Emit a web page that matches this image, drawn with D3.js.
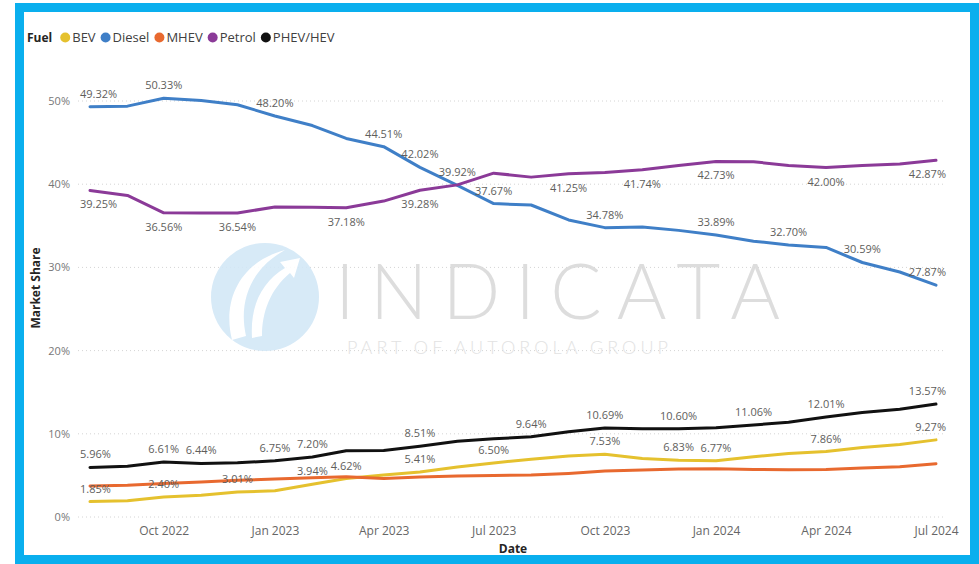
<!DOCTYPE html>
<html>
<head>
	<meta charset="utf-8">
	<title>Market Share by Fuel</title>
	<script src="https://cdn.jsdelivr.net/npm/d3@7"></script>
	<style>
		body { margin: 0; background: #fff; }
		svg { display: block; font-family: "Segoe UI", "Open Sans", sans-serif; }
	</style>
</head>
<body>
	<svg width="979" height="564"></svg>
	<script>
		// monthly data, Aug 2022 .. Jul 2024
		const months = ['2022-08','2022-09','2022-10','2022-11','2022-12','2023-01','2023-02','2023-03','2023-04','2023-05','2023-06','2023-07',
			'2023-08','2023-09','2023-10','2023-11','2023-12','2024-01','2024-02','2024-03','2024-04','2024-05','2024-06','2024-07'];
		const fuels = ['BEV', 'Diesel', 'MHEV', 'Petrol', 'PHEV/HEV'];
		const colors = ['#E5C12E', '#3F7FC7', '#E8692F', '#8B3A98', '#111111'];

		const bev    = [1.85, 1.95, 2.40, 2.62, 3.01, 3.15, 3.94, 4.62, 5.04, 5.41, 6.02, 6.50, 6.93, 7.32, 7.53, 7.04, 6.83, 6.77, 7.24, 7.62, 7.86, 8.36, 8.72, 9.27];
		const diesel = [49.32, 49.38, 50.33, 50.05, 49.55, 48.20, 47.05, 45.50, 44.51, 42.02, 39.85, 37.67, 37.50, 35.70, 34.78, 34.85, 34.45, 33.89, 33.15, 32.70, 32.40, 30.59, 29.45, 27.87];
		const mhev   = [3.72, 3.82, 4.02, 4.20, 4.42, 4.56, 4.72, 4.84, 4.64, 4.82, 4.92, 5.00, 5.04, 5.24, 5.52, 5.64, 5.76, 5.80, 5.72, 5.68, 5.72, 5.88, 6.04, 6.40];
		const petrol = [39.25, 38.65, 36.56, 36.55, 36.54, 37.25, 37.24, 37.18, 37.97, 39.28, 39.92, 41.33, 40.85, 41.25, 41.42, 41.74, 42.25, 42.73, 42.70, 42.25, 42.00, 42.25, 42.42, 42.87];
		const phev   = [5.96, 6.10, 6.61, 6.44, 6.52, 6.75, 7.20, 7.96, 8.00, 8.51, 9.10, 9.40, 9.64, 10.24, 10.69, 10.62, 10.60, 10.72, 11.06, 11.38, 12.01, 12.56, 12.96, 13.57];
		const seriesValues = [bev, diesel, mhev, petrol, phev];

		// which points carry a data label, and on which side of the line
		const bevLabels    = [0, 2, 4, 6, 7, 9, 11, 14, 16, 17, 20, 23];
		const dieselLabels = [0, 2, 5, 8, 9, 11, 14, 17, 19, 21, 23];
		const mhevLabels   = [];
		const petrolLabels = [0, 2, 4, 7, 9, 10, 13, 15, 17, 20, 23];
		const phevLabels   = [0, 2, 3, 5, 6, 9, 12, 14, 16, 18, 20, 23];
		const seriesLabels = [bevLabels, dieselLabels, mhevLabels, petrolLabels, phevLabels];
		const labelsBelow  = { Petrol: [0, 2, 4, 7, 9, 13, 15, 17, 20, 23] };

		const yTicks = [0, 10, 20, 30, 40, 50];

		const parse = d3.timeParse('%Y-%m');
		const dates = months.map(parse);

		const svg = d3.select('svg');

		// blue frame
		svg.append('rect')
			.attr('x', 19.5).attr('y', 7.5)
			.attr('width', 955).attr('height', 552)
			.attr('fill', 'none')
			.attr('stroke', '#0AAFEE')
			.attr('stroke-width', 9);

		const xScale = d3.scaleTime()
			.domain(d3.extent(dates))
			.range([90, 936]);

		const yScale = d3.scaleLinear()
			.domain([0, 50])
			.range([517, 101]);

		// gridlines
		svg.append('g')
			.selectAll('line')
			.data(yTicks)
			.enter()
			.append('line')
			.attr('x1', 78).attr('x2', 946)
			.attr('y1', d => yScale(d)).attr('y2', d => yScale(d))
			.attr('stroke', '#d4d4d4')
			.attr('stroke-width', 1)
			.attr('stroke-dasharray', '1,3');

		// y axis
		const yAxis = svg.append('g')
			.attr('transform', 'translate(78,0)')
			.call(d3.axisLeft(yScale).tickValues(yTicks).tickFormat(d => d + '%').tickSize(0).tickPadding(8));
		yAxis.select('.domain').remove();
		yAxis.selectAll('text')
			.attr('fill', '#777')
			.style('font-size', '11px')
			.style('font-family', '"Segoe UI", "Open Sans", sans-serif');

		// x axis
		const xAxis = svg.append('g')
			.attr('transform', 'translate(0,517)')
			.call(d3.axisBottom(xScale).ticks(d3.timeMonth.filter(d => d.getMonth() % 3 === 0)).tickFormat(d3.timeFormat('%b %Y')).tickSize(0).tickPadding(9));
		xAxis.select('.domain').remove();
		xAxis.selectAll('text')
			.attr('fill', '#666')
			.style('font-size', '12px')
			.style('font-family', '"Segoe UI", "Open Sans", sans-serif');

		// axis titles
		svg.append('text')
			.attr('x', 513).attr('y', 553)
			.attr('text-anchor', 'middle')
			.attr('fill', '#252423')
			.style('font-size', '12px').style('font-weight', 'bold')
			.text('Date');

		svg.append('text')
			.attr('transform', 'translate(40,288) rotate(-90)')
			.attr('text-anchor', 'middle')
			.attr('fill', '#252423')
			.style('font-size', '12px').style('font-weight', 'bold')
			.text('Market Share');

		// watermark
		const wm = svg.append('g').attr('opacity', 0.9);
		wm.append('circle')
			.attr('cx', 265).attr('cy', 297).attr('r', 54)
			.attr('fill', '#d3e8f7');
		wm.append('path')
			.attr('d', 'M232,340 C222,300 240,262 285,250 C252,268 238,300 246,336 Z')
			.attr('fill', '#fff');
		wm.append('path')
			.attr('d', 'M252,338 C250,305 262,282 285,268 L280,262 L300,258 L294,278 L290,273 C270,290 262,312 262,336 Z')
			.attr('fill', '#fff');
		wm.append('text')
			.attr('x', 335).attr('y', 319)
			.attr('textLength', 445).attr('lengthAdjust', 'spacing')
			.attr('fill', '#dadada')
			.style('font-family', 'Lato, sans-serif')
			.style('font-weight', 300)
			.style('font-size', '76px')
			.text('INDICATA');
		wm.append('text')
			.attr('x', 347).attr('y', 354)
			.attr('textLength', 321).attr('lengthAdjust', 'spacing')
			.attr('fill', '#e0e0e0')
			.style('font-family', 'Lato, sans-serif')
			.style('font-weight', 300)
			.style('font-size', '18px')
			.text('PART OF AUTOROLA GROUP');

		// lines
		const line = d3.line()
			.x((d, i) => xScale(dates[i]))
			.y(d => yScale(d));

		svg.append('g')
			.selectAll('path')
			.data(seriesValues)
			.enter()
			.append('path')
			.attr('d', line)
			.attr('fill', 'none')
			.attr('stroke', (d, i) => colors[i])
			.attr('stroke-width', 3)
			.attr('stroke-linejoin', 'round')
			.attr('stroke-linecap', 'round');

		// data labels
		const labelG = svg.append('g');
		fuels.forEach(function(f, s) {
			const below = labelsBelow[f] || [];
			seriesLabels[s].forEach(function(i) {
				const v = seriesValues[s][i];
				const t = labelG.append('text')
					.attr('x', xScale(dates[i]))
					.attr('y', yScale(v) + (below.includes(i) ? 18 : -9))
					.attr('text-anchor', 'middle')
					.attr('fill', '#605E5C')
					.style('font-size', '11px')
					.text(v.toFixed(2) + '%');
				// keep labels inside the plot area
				const w = t.node().getComputedTextLength();
				const cx = Math.max(80 + w / 2, Math.min(946 - w / 2, xScale(dates[i])));
				t.attr('x', cx);
			});
		});

		// legend
		const legend = svg.append('g').attr('transform', 'translate(27,42)');
		const fuelTitle = legend.append('text')
			.attr('x', 0).attr('y', 0)
			.attr('fill', '#252423')
			.style('font-size', '12px').style('font-weight', 'bold')
			.text('Fuel');
		let lx = fuelTitle.node().getComputedTextLength() + 13;
		fuels.forEach(function(f, i) {
			legend.append('circle')
				.attr('cx', lx).attr('cy', -4.5).attr('r', 5)
				.attr('fill', colors[i]);
			const t = legend.append('text')
				.attr('x', lx + 7).attr('y', 0)
				.attr('fill', '#404040')
				.style('font-size', '13px')
				.text(f);
			lx += 7 + t.node().getComputedTextLength() + 10;
		});
	</script>
</body>
</html>
